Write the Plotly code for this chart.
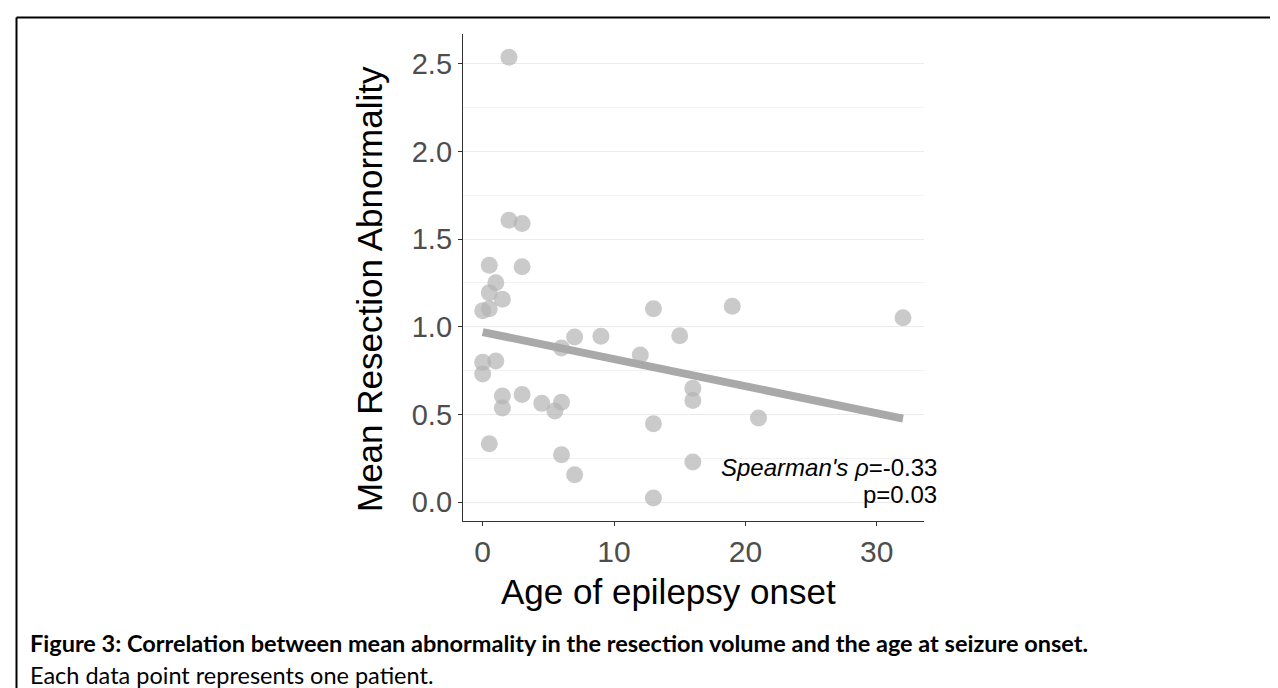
import plotly.graph_objects as go

# Data
age_onset = [2, 2, 3, 0.5, 3, 1, 0.5, 1.5, 0, 0.5, 0, 1, 0, 1.5, 1.5, 3, 4.5, 5.5, 6,
             0.5, 6, 7, 6, 7, 9, 12, 13, 13, 13, 15, 16, 16, 16, 19, 21, 32]
abnormality = [2.538, 1.608, 1.589, 1.351, 1.343, 1.252, 1.195, 1.157, 1.092, 1.103,
               0.797, 0.805, 0.731, 0.605, 0.537, 0.613, 0.563, 0.519, 0.569, 0.333,
               0.270, 0.156, 0.879, 0.942, 0.946, 0.839, 1.103, 0.447, 0.023, 0.949,
               0.649, 0.580, 0.228, 1.117, 0.479, 1.052]
fit_x = [0, 32]
fit_y = [0.970, 0.476]
x_ticks = [0, 10, 20, 30]
y_ticks = [0.0, 0.5, 1.0, 1.5, 2.0, 2.5]
y_minor = [0.25, 0.75, 1.25, 1.75, 2.25]

W, H = 1278, 688

fig = go.Figure()
fig.add_trace(go.Scatter(
    x=age_onset, y=abnormality, mode="markers",
    marker=dict(size=17, color="rgba(180,180,180,0.7)", line=dict(width=0)),
    showlegend=False, hoverinfo="skip"))
fig.add_trace(go.Scatter(
    x=fit_x, y=fit_y, mode="lines",
    line=dict(color="#a9a9a9", width=8),
    showlegend=False, hoverinfo="skip"))

x0, x1 = 455 / W, 916 / W
ytop, ybot = 1 - 26 / H, 1 - 513.3 / H

fig.update_layout(
    width=W, height=H,
    margin=dict(l=0, r=0, t=0, b=0),
    paper_bgcolor="white", plot_bgcolor="white",
    font=dict(family="Liberation Sans, Arial, sans-serif"),
    xaxis=dict(domain=[x0, x1], range=[-1.5, 33.6], tickvals=x_ticks,
               ticktext=[str(v) for v in x_ticks],
               showgrid=False, zeroline=False, showline=True,
               linecolor="#333333", linewidth=1.3, ticks="outside", ticklen=4,
               tickcolor="#333333", tickwidth=1.3,
               tickfont=dict(size=30, color="#4d4d4d")),
    yaxis=dict(domain=[ybot, ytop], range=[-0.110, 2.671], tickvals=y_ticks,
               ticktext=["%.1f" % v for v in y_ticks],
               showgrid=True, gridcolor="#ebebeb", gridwidth=1.3,
               minor=dict(tickvals=y_minor, showgrid=True, gridcolor="#f2f2f2", gridwidth=1),
               zeroline=False, showline=True,
               linecolor="#333333", linewidth=1.3, ticks="outside", ticklen=4,
               tickcolor="#333333", tickwidth=1.3,
               tickfont=dict(size=29, color="#4d4d4d")),
)

ann = []
ann.append(dict(text="Age of epilepsy onset", xref="paper", yref="paper",
                x=660.5 / W, y=1 - 583.5 / H, xanchor="center", yanchor="middle",
                showarrow=False, font=dict(size=35, color="black")))
ann.append(dict(text="Mean Resection Abnormality", xref="paper", yref="paper",
                x=361.5 / W, y=1 - 280.5 / H, xanchor="center", yanchor="middle", textangle=-90,
                showarrow=False, font=dict(size=35, color="black")))
ann.append(dict(text="<i>Spearman's ρ</i>=-0.33", xref="paper", yref="paper",
                x=931 / W, y=1 - 459.5 / H, xanchor="right", yanchor="middle",
                showarrow=False, font=dict(size=24, color="black")))
ann.append(dict(text="p=0.03", xref="paper", yref="paper",
                x=931 / W, y=1 - 486 / H, xanchor="right", yanchor="middle",
                showarrow=False, font=dict(size=24, color="black")))
ann.append(dict(text="<b>Figure 3: Correlation between mean abnormality in the resection volume and the age at seizure onset.</b>",
                xref="paper", yref="paper", x=21 / W, y=1 - 635 / H, xanchor="left", yanchor="middle",
                showarrow=False, borderpad=0,
                font=dict(family="Lato, sans-serif", size=23.5, color="black")))
ann.append(dict(text="Each data point represents one patient.",
                xref="paper", yref="paper", x=21 / W, y=1 - 667 / H, xanchor="left", yanchor="middle",
                showarrow=False, borderpad=0,
                font=dict(family="Lato, sans-serif", size=23.5, color="black")))
fig.update_layout(annotations=ann)

# white patch behind the p-value label (hides the gridline there), drawn under the marks
fig.add_shape(type="rect", xref="paper", yref="paper", layer="between",
              x0=843 / W, x1=x1, y0=1 - 500 / H, y1=1 - 482 / H,
              fillcolor="white", line=dict(width=0))
fig.add_shape(type="line", xref="paper", yref="paper", x0=8.5 / W, x1=1.0,
              y0=1 - 9.5 / H, y1=1 - 9.5 / H, line=dict(color="black", width=2))
fig.add_shape(type="line", xref="paper", yref="paper", x0=8.5 / W, x1=8.5 / W,
              y0=1 - 9.5 / H, y1=0, line=dict(color="black", width=2))

fig.write_html("out.html")
